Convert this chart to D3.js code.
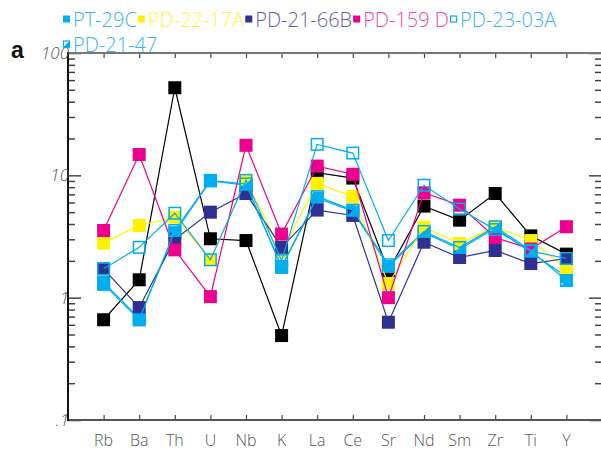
<!DOCTYPE html>
<html><head><meta charset="utf-8">
<script src="https://cdn.jsdelivr.net/npm/d3@7"></script>
<style>body{margin:0;background:#fff;} svg{display:block;}</style>
</head><body>
<script>
const categories = ["Rb","Ba","Th","U","Nb","K","La","Ce","Sr","Nd","Sm","Zr","Ti","Y"];
const yTickValues = [0.1, 1, 10, 100];
const yTickLabels = [".1", "1", "10", "100"];

const seriesNames = ["PT-29C","PD-22-17A","PD-21-66B","PD-159 D","PD-23-03A","PD-21-47","unlabelled"];
const blackVals   = [0.66, 1.40, 52, 3.03, 2.93, 0.49, 10.5, 9.5, 1.66, 5.6, 4.3, 7.1, 3.2, 2.27];
const pt29cVals   = [1.33, 0.68, 3.4, 9.0, 8.3, 1.80, 6.5, 5.1, 1.80, 3.4, 2.5, 3.7, 2.35, 1.48];
const pd2217aVals = [2.79, 3.89, 4.55, 2.04, 9.1, 2.4, 8.6, 6.7, 1.30, 3.77, 2.77, 3.8, 2.93, 1.73];
const pd2166bVals = [1.72, 0.83, 3.0, 5.0, 7.1, 2.58, 5.2, 4.7, 0.63, 2.84, 2.13, 2.43, 1.9, 2.09];
const pd159dVals  = [3.54, 14.8, 2.46, 1.02, 17.6, 3.31, 11.9, 10.2, 1.0, 7.2, 5.7, 3.1, 2.5, 3.8];
const pd2303aVals = [1.72, 2.58, 4.9, 2.04, 9.1, 2.01, 17.9, 15.2, 2.93, 8.3, 5.3, 3.6, 2.4, 2.09];
const pd2147Vals  = [1.29, 0.66, 3.54, 9.1, 8.5, 1.77, 6.7, 5.2, 1.86, 3.48, 2.57, 3.8, 2.43, 1.38];

const CYAN="#00aeef", YEL="#fff200", NAVY="#2e3192", MAG="#ec008c", BLK="#000000";

// drawing order (bottom to top)
const series = [
  {name:null, vals:blackVals, color:BLK, type:"filled"},
  {name:"PT-29C", vals:pt29cVals, color:CYAN, type:"filled"},
  {name:"PD-22-17A", vals:pd2217aVals, color:YEL, type:"filled"},
  {name:"PD-21-66B", vals:pd2166bVals, color:NAVY, type:"filled"},
  {name:"PD-159 D", vals:pd159dVals, color:MAG, type:"filled"},
  {name:"PD-21-47", vals:pd2147Vals, color:CYAN, type:"half"},
  {name:"PD-23-03A", vals:pd2303aVals, color:CYAN, type:"open"}
];
const legendOrder = ["PT-29C","PD-22-17A","PD-21-66B","PD-159 D","PD-23-03A","PD-21-47"];

const W=601, H=452;
const L=68, R=602, T=53, B=420;
const svg = d3.select("body").append("svg").attr("width",W).attr("height",H);

const x = d3.scalePoint().domain(categories).range([L,R]).padding(1);
const y = d3.scaleLog().domain([0.1,100]).range([B,T]);

const axisCol="#444";
const allTicks=[];
for(let e=-1;e<2;e++){for(let m=1;m<10;m++){allTicks.push(m*Math.pow(10,e));}}
allTicks.push(100);
const gl = svg.append("g").attr("transform",`translate(${L},0)`).call(d3.axisRight(y).tickValues(allTicks).tickFormat("").tickSizeOuter(0).tickSize(7));
gl.selectAll(".tick line").attr("stroke",axisCol).attr("stroke-width",1.5)
  .attr("x2", d=> (yTickValues.includes(d)?13:7));
gl.select(".domain").remove();
const gr = svg.append("g").attr("transform",`translate(${R},0)`).call(d3.axisLeft(y).tickValues(allTicks).tickFormat("").tickSizeOuter(0));
gr.selectAll(".tick line").attr("stroke",axisCol).attr("stroke-width",1.5)
  .attr("x2", d=> (yTickValues.includes(d)?-13:-7));
gr.select(".domain").remove();

const gt = svg.append("g").attr("transform",`translate(0,${T})`).call(d3.axisBottom(x).tickSize(5).tickFormat("").tickSizeOuter(0));
gt.select(".domain").remove();
gt.selectAll(".tick line").attr("stroke",axisCol).attr("stroke-width",1.2);
const gb = svg.append("g").attr("transform",`translate(0,${B})`).call(d3.axisTop(x).tickSize(5).tickFormat("").tickSizeOuter(0));
gb.select(".domain").remove();
gb.selectAll(".tick line").attr("stroke",axisCol).attr("stroke-width",1.2);

svg.append("line").attr("x1",L).attr("x2",R).attr("y1",T).attr("y2",T).attr("stroke","#777").attr("stroke-width",2);
svg.append("line").attr("x1",L).attr("x2",R).attr("y1",B).attr("y2",B).attr("stroke","#555").attr("stroke-width",2);
svg.append("line").attr("x1",L).attr("x2",L).attr("y1",T-1).attr("y2",B+1).attr("stroke","#111").attr("stroke-width",2);

svg.append("g").selectAll("text").data(yTickValues).join("text")
  .attr("x",L+1).attr("y",d=>y(d)+6)
  .attr("text-anchor","end")
  .attr("font-family","Open Sans").attr("font-weight",300).attr("font-style","italic")
  .attr("font-size",17).attr("fill","#555")
  .text((d,i)=>yTickLabels[i]);

svg.append("g").selectAll("text").data(categories).join("text")
  .attr("x",d=>x(d)).attr("y",446)
  .attr("text-anchor","middle")
  .attr("font-family","Open Sans").attr("font-weight",300)
  .attr("font-size",16).attr("fill","#555")
  .text(d=>d);

svg.append("text").attr("x",11).attr("y",58).attr("font-family","Liberation Sans")
  .attr("font-weight","bold").attr("font-size",23).attr("fill","#111").text("a");

const S=13;
const line = d3.line().x((d,i)=>x(categories[i])).y(d=>y(d));
series.forEach(s=>{
  const g = svg.append("g");
  g.append("path").attr("d",line(s.vals)).attr("fill","none").attr("stroke",s.color).attr("stroke-width",1.2);
  const pts = s.vals.map((v,i)=>({cx:x(categories[i]), cy:y(v)}));
  if(s.type==="filled"){
    g.selectAll("rect").data(pts).join("rect")
      .attr("x",d=>d.cx-S/2).attr("y",d=>d.cy-S/2).attr("width",S).attr("height",S)
      .attr("fill",s.color);
  } else if(s.type==="open"){
    g.selectAll("rect").data(pts).join("rect")
      .attr("x",d=>d.cx-S/2+0.75).attr("y",d=>d.cy-S/2+0.75).attr("width",S-1.5).attr("height",S-1.5)
      .attr("fill","none").attr("stroke",s.color).attr("stroke-width",1.5);
  } else {
    g.selectAll("path.tri").data(pts).join("path").attr("class","tri")
      .attr("d",d=>`M${d.cx+S/2},${d.cy-S/2}L${d.cx+S/2},${d.cy+S/2}L${d.cx-S/2},${d.cy+S/2}Z`)
      .attr("fill",s.color);
    g.selectAll("rect").data(pts).join("rect")
      .attr("x",d=>d.cx-S/2+0.75).attr("y",d=>d.cy-S/2+0.75).attr("width",S-1.5).attr("height",S-1.5)
      .attr("fill","none").attr("stroke",s.color).attr("stroke-width",1.5);
  }
});

const legColors = {"PT-29C":CYAN,"PD-22-17A":YEL,"PD-21-66B":NAVY,"PD-159 D":MAG,"PD-23-03A":CYAN,"PD-21-47":CYAN};
const legTypes = {"PT-29C":"filled","PD-22-17A":"filled","PD-21-66B":"filled","PD-159 D":"filled","PD-23-03A":"open","PD-21-47":"half"};
const legText = {"PT-29C":"#3bb4ea","PD-22-17A":"#fff34a","PD-21-66B":"#5c5fa8","PD-159 D":"#ef4aa0","PD-23-03A":"#3bb4ea","PD-21-47":"#3bb4ea"};
const lg = svg.append("g");
let lx = 63, ly = 20;
legendOrder.forEach((n,i)=>{
  if(i===5){lx=63; ly=45;}
  const c = legColors[n], t=legTypes[n], sz=7;
  const ix=lx, iy=ly-sz/2-1;
  if(t==="filled"){
    lg.append("rect").attr("x",ix).attr("y",iy).attr("width",sz).attr("height",sz).attr("fill",c);
  } else if(t==="open"){
    lg.append("rect").attr("x",ix+0.5).attr("y",iy+0.5).attr("width",sz-1).attr("height",sz-1).attr("fill","none").attr("stroke",c).attr("stroke-width",1.2);
  } else {
    lg.append("path").attr("d",`M${ix+sz},${iy}L${ix+sz},${iy+sz}L${ix},${iy+sz}Z`).attr("fill",c);
    lg.append("rect").attr("x",ix+0.5).attr("y",iy+0.5).attr("width",sz-1).attr("height",sz-1).attr("fill","none").attr("stroke",c).attr("stroke-width",1.2);
  }
  const tx = lg.append("text").attr("x",ix+sz+3).attr("y",ly+7)
    .attr("font-family","Open Sans").attr("font-weight",300).attr("font-size",20)
    .attr("fill",legText[n]).text(n);
  lx = ix+sz+3+tx.node().getComputedTextLength()+1;
});
</script>
</body></html>
